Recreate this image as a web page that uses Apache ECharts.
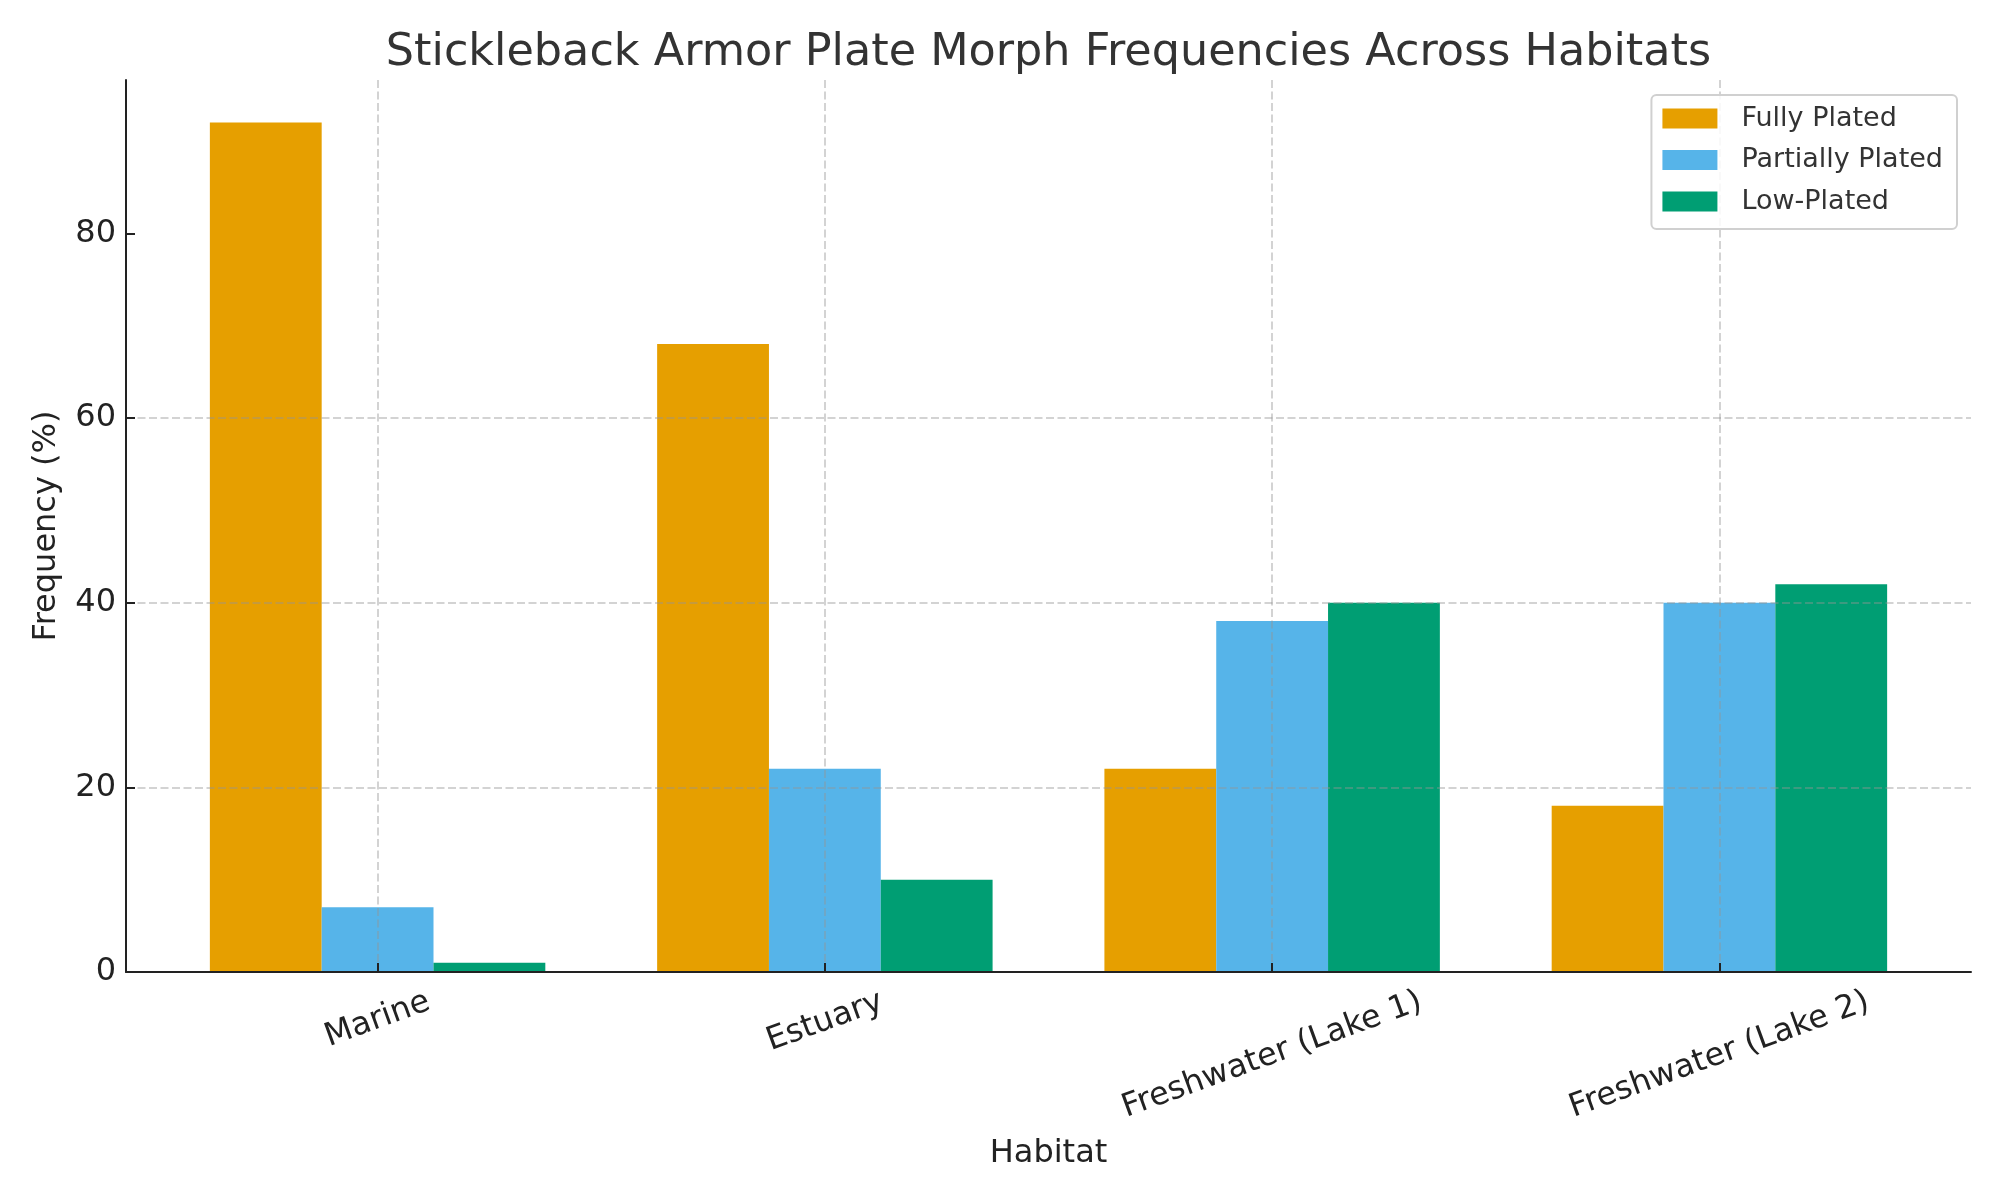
<!DOCTYPE html>
<html>
<head>
<meta charset="utf-8">
<script src="https://cdn.jsdelivr.net/npm/echarts@6/dist/echarts.min.js"></script>
<style>
  html, body { margin: 0; padding: 0; background: #fff; }
  #chart { width: 2000px; height: 1200px; }
</style>
</head>
<body>
<div id="chart"></div>
<script>
const habitats = ["Marine", "Estuary", "Freshwater (Lake 1)", "Freshwater (Lake 2)"];
const fullyPlated = [92, 68, 22, 18];
const partiallyPlated = [7, 22, 38, 40];
const lowPlated = [1, 10, 40, 42];
const yTicks = [0, 20, 40, 60, 80];

const FONT = "'DejaVu Sans', 'Noto Sans', sans-serif";
const TEXT = "#222222";
const GRID_LINE = "rgba(150, 150, 150, 0.55)";

// plot box in pixels (matplotlib-like axes)
const W = 2000, H = 1200;
const PLOT = { left: 126, right: 1971, top: 80, bottom: 972 };
const X_MIN = -0.5625, X_MAX = 3.5625, Y_MAX = 96.6;

const unit = (PLOT.right - PLOT.left) / (X_MAX - X_MIN);
const catLeft = PLOT.left + (0 - X_MIN) * unit;
const catRight = PLOT.left + (habitats.length - 1 - X_MIN) * unit;

// rotated tick labels, centred under the tick like ha="center":
// longer labels sit lower, so each one gets its own padded rich style
const TICK_SIZE = 32;
const ROT = 20 * Math.PI / 180;
const measure = document.createElement("canvas").getContext("2d");
measure.font = TICK_SIZE + "px 'DejaVu Sans'";
const xRich = {};
habitats.forEach((h, i) => {
  const w = measure.measureText(h).width;
  const dy = w * Math.sin(ROT) / 2;
  xRich["p" + i] = {
    fontSize: TICK_SIZE,
    fontFamily: FONT,
    color: TEXT,
    padding: [2 * dy * Math.cos(ROT), 2 * dy * Math.sin(ROT), 0, 0],
  };
});

const chart = echarts.init(document.getElementById("chart"), null, { renderer: "canvas" });

const gridBase = { top: PLOT.top, bottom: H - PLOT.bottom, containLabel: false, outerBoundsMode: "none" };

chart.setOption({
  backgroundColor: "#ffffff",
  animation: false,
  textStyle: { fontFamily: FONT },
  title: {
    text: "Stickleback Armor Plate Morph Frequencies Across Habitats",
    left: (PLOT.left + PLOT.right) / 2,
    textAlign: "center",
    top: 31,
    padding: 0,
    textStyle: { fontSize: 44.5, fontWeight: "normal", color: "#333333", fontFamily: FONT },
  },
  legend: {
    orient: "vertical",
    right: W - 1957,
    top: 95,
    padding: [10, 14, 14, 11],
    itemWidth: 55,
    itemHeight: 20,
    itemGap: 14.5,
    icon: "rect",
    backgroundColor: "rgba(255,255,255,0.85)",
    borderColor: "#d0d0d0",
    borderWidth: 2,
    borderRadius: 5,
    textStyle: { fontSize: 27, color: "#333333", fontFamily: FONT, padding: [0, 0, 0, 19] },
  },
  grid: [
    Object.assign({ left: PLOT.left, right: W - PLOT.right }, gridBase),
    Object.assign({ left: catLeft, right: W - catRight }, gridBase),
  ],
  xAxis: [
    {
      type: "value",
      gridIndex: 0,
      min: X_MIN,
      max: X_MAX,
      z: 3,
      axisLine: { show: true, onZero: false, lineStyle: { color: TEXT, width: 2 } },
      axisTick: { show: false },
      axisLabel: { show: false },
      splitLine: { show: false },
      name: "Habitat",
      nameLocation: "middle",
      nameGap: 166,
      nameTextStyle: { fontSize: 32, color: TEXT, fontFamily: FONT },
    },
    {
      type: "category",
      gridIndex: 1,
      data: habitats,
      boundaryGap: false,
      z: 3,
      axisLine: { show: false, onZero: false },
      axisTick: { show: true, inside: true, length: 9, lineStyle: { color: TEXT, width: 2 } },
      axisLabel: {
        interval: 0,
        rotate: 20,
        align: "center",
        verticalAlign: "middle",
        margin: 29,
        fontSize: TICK_SIZE,
        color: TEXT,
        fontFamily: FONT,
        formatter: (value, index) => "{p" + index + "|" + value + "}",
        rich: xRich,
      },
      splitLine: { show: true, lineStyle: { color: GRID_LINE, width: 1.5, type: [8, 3.5] } },
    },
  ],
  yAxis: [
    {
      type: "value",
      gridIndex: 0,
      min: 0,
      max: Y_MAX,
      interval: 20,
      z: 3,
      axisLine: { show: true, onZero: false, lineStyle: { color: TEXT, width: 2 } },
      axisTick: { show: true, inside: true, length: 9, customValues: yTicks, lineStyle: { color: TEXT, width: 2 } },
      axisLabel: { customValues: yTicks, margin: 10, fontSize: TICK_SIZE, color: TEXT, fontFamily: FONT },
      splitLine: {
        show: true,
        showMinLine: false,
        showMaxLine: false,
        lineStyle: { color: GRID_LINE, width: 1.5, type: [8, 3.5] },
      },
      name: "Frequency (%)",
      nameLocation: "middle",
      nameGap: 63,
      nameTextStyle: { fontSize: 32, color: TEXT, fontFamily: FONT },
    },
    { type: "value", gridIndex: 1, min: 0, max: Y_MAX, show: false },
  ],
  series: [
    { name: "Fully Plated", data: fullyPlated, color: "#E69F00" },
    { name: "Partially Plated", data: partiallyPlated, color: "#56B4E9" },
    { name: "Low-Plated", data: lowPlated, color: "#009E73" },
  ].map((s) => ({
    type: "bar",
    name: s.name,
    data: s.data,
    xAxisIndex: 1,
    yAxisIndex: 1,
    barGap: "0%",
    barCategoryGap: "25%",
    clip: false,
    itemStyle: { color: s.color },
  })),
});
</script>
</body>
</html>
